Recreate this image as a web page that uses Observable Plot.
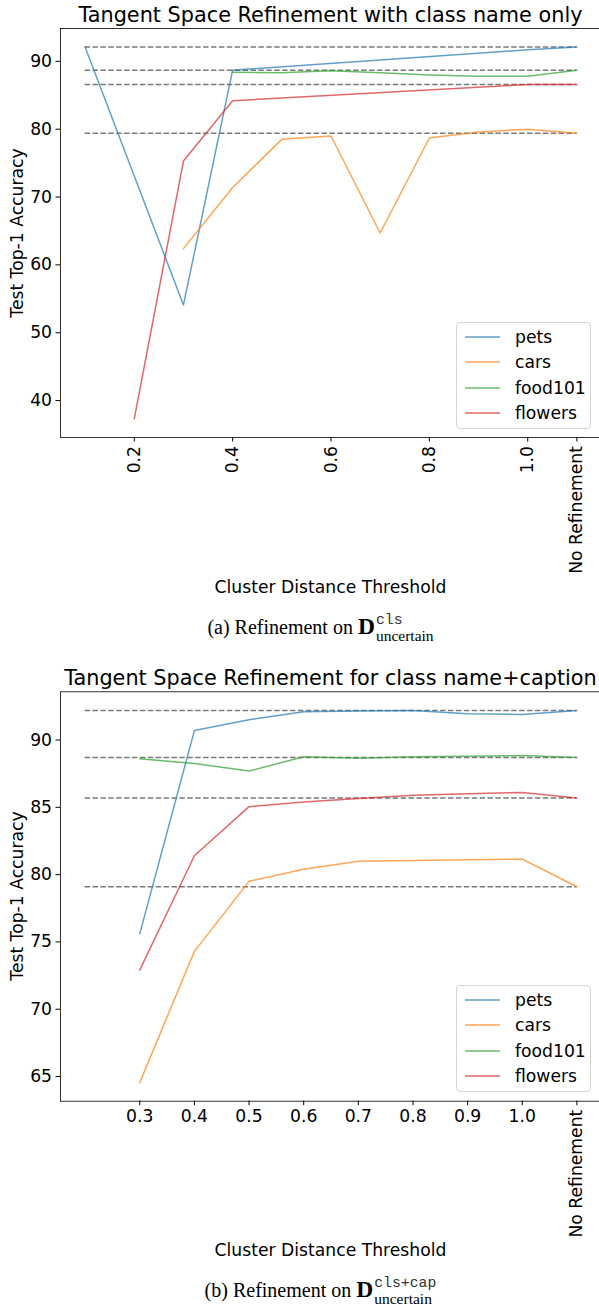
<!DOCTYPE html>
<html>
<head>
<meta charset="utf-8">
<script src="https://cdn.jsdelivr.net/npm/d3@7"></script>
<script src="https://cdn.jsdelivr.net/npm/@observablehq/plot@0.6"></script>
<style>
  body { margin: 0; background: #fff; }
  #page { position: relative; width: 599px; height: 1310px; overflow: hidden;
          font-family: "DejaVu Sans", sans-serif; color: #000; background: #fff; }
  .abs { position: absolute; }
  .title { left: 60px; width: 541px; text-align: center; font-size: 20.8px; line-height: 24px; white-space: nowrap; }
  .xlabel { left: 60px; width: 541px; text-align: center; font-size: 17.2px; line-height: 20px; white-space: nowrap; }
  .ylabel { font-size: 17.2px; line-height: 20px; white-space: nowrap;
            transform: translate(-50%, -50%) rotate(-90deg); }
  .legend { width: 133px; height: 105px; border: 1px solid #d4d4d4; border-radius: 4px;
            background: rgba(255,255,255,0.8); }
  .legend .row { position: absolute; left: 0; height: 20px; width: 133px; }
  .legend svg { position: absolute; left: 8px; top: 0; }
  .legend .name { position: absolute; left: 58px; top: 0; font-size: 17.2px; line-height: 20px; }
  .caption { left: 0; width: 641px; text-align: center; font-family: "Liberation Serif", serif;
             font-size: 20px; line-height: 40px; white-space: nowrap; }
  .caption .D { font-weight: bold; font-size: 23.5px; line-height: 1; }
  .caption .ss { display: inline-block; vertical-align: -6.5px; line-height: 1; text-align: left; margin-left: 1px; }
  .caption .sup { display: block; font-family: "Liberation Mono", monospace; font-size: 14.8px; color: #333; }
  .caption .sub { display: block; font-size: 15.5px; }
</style>
</head>
<body>
<div id="page">
  <div id="plotA" class="abs" style="left:0;top:0"></div>
  <div id="plotB" class="abs" style="left:0;top:660px"></div>

  <div class="abs title" style="top:3px">Tangent Space Refinement with class name only</div>
  <div class="abs ylabel" style="left:17px;top:232.5px">Test Top-1 Accuracy</div>
  <div class="abs xlabel" style="top:577px">Cluster Distance Threshold</div>
  <div id="legendA" class="abs legend" style="left:456px;top:322px"></div>
  <div class="abs caption" style="top:607px">(a) Refinement on <span class="D">D</span><span class="ss"><span class="sup">cls</span><span class="sub">uncertain</span></span></div>

  <div class="abs title" style="top:666px">Tangent Space Refinement for class name+caption</div>
  <div class="abs ylabel" style="left:17px;top:896px">Test Top-1 Accuracy</div>
  <div class="abs xlabel" style="top:1240px">Cluster Distance Threshold</div>
  <div id="legendB" class="abs legend" style="left:456px;top:985px"></div>
  <div class="abs caption" style="top:1270px">(b) Refinement on <span class="D">D</span><span class="ss"><span class="sup">cls+cap</span><span class="sub">uncertain</span></span></div>
</div>

<script>
// Position on the threshold axis used for the "No Refinement" column
const NO_REF = 1.1;
const NO_REF_LABEL = "No Refinement";

const datasets = ["pets", "cars", "food101", "flowers"];
const seriesColors = ["#1f77b4", "#ff7f0e", "#2ca02c", "#d62728"];

// (a) class name only
const thresholdsA = [0.1, 0.2, 0.3, 0.4, 0.5, 0.6, 0.7, 0.8, 0.9, 1.0];
const petsA     = [92.1, null, 54.1, 88.7, null, null, null, null, null, 91.7];
const carsA     = [null, null, 62.4, 71.4, 78.5, 79.0, 64.7, 78.7, 79.6, 80.0];
const food101A  = [null, null, null, 88.4, 88.3, 88.6, 88.3, 88.0, 87.8, 87.8];
const flowersA  = [null, 37.3, 75.3, 84.2, null, null, null, null, null, 86.6];
const noRefinementA = [92.1, 79.4, 88.7, 86.6];
const xTicksA = [0.2, 0.4, 0.6, 0.8, 1.0, NO_REF];
const yTicksA = [40, 50, 60, 70, 80, 90];

// (b) class name + caption
const thresholdsB = [0.2, 0.3, 0.4, 0.5, 0.6, 0.7, 0.8, 0.9, 1.0];
const petsB     = [null, 75.6, 90.7, 91.5, 92.1, 92.15, 92.2, 91.95, 91.9];
const carsB     = [null, 64.55, 74.3, 79.5, 80.4, 81.0, 81.05, 81.1, 81.15];
const food101B  = [null, 88.6, 88.25, 87.7, 88.75, 88.65, 88.75, 88.8, 88.85];
const flowersB  = [null, 72.9, 81.4, 85.05, 85.4, 85.65, 85.9, 86.0, 86.1];
const noRefinementB = [92.2, 79.1, 88.7, 85.7];
const xTicksB = [0.3, 0.4, 0.5, 0.6, 0.7, 0.8, 0.9, 1.0];
const yTicksB = [65, 70, 75, 80, 85, 90];

// Axis limits padded by 5% of the data span on each side
function padded(lo, hi) {
  const m = (hi - lo) * 0.05;
  return [lo - m, hi + m];
}

function tickText(d) {
  return d === NO_REF ? NO_REF_LABEL : d.toFixed(1);
}

function drawPanel({thresholds, series, noRef, xTicks, yTicks, rotateAll, marginTop, marginBottom}) {
  const rows = [];
  datasets.forEach((name, i) => {
    series[i].forEach((v, j) => {
      if (v != null) rows.push({name, threshold: thresholds[j], acc: v});
    });
    rows.push({name, threshold: NO_REF, acc: noRef[i]});
  });
  const baselines = datasets.map((name, i) => ({name, acc: noRef[i]}));
  const accs = rows.map(d => d.acc);
  const start = thresholds[0];

  const xAxes = rotateAll
    ? [Plot.axisX({ticks: xTicks, tickFormat: tickText, tickRotate: -90, tickSize: 4.5, tickPadding: 4, label: null})]
    : [
        Plot.axisX({ticks: xTicks.filter(t => t !== NO_REF), tickFormat: tickText, tickSize: 4.5, tickPadding: 4, label: null}),
        Plot.axisX({ticks: [NO_REF], tickFormat: tickText, tickRotate: -90, tickSize: 4.5, tickPadding: 4, label: null})
      ];

  return Plot.plot({
    width: 601,
    height: 600,
    marginLeft: 60,
    marginRight: 0,
    marginTop,
    marginBottom,
    style: {fontFamily: "DejaVu Sans", fontSize: "17.2px", background: "white", maxWidth: "none", overflow: "visible", color: "black"},
    x: {domain: padded(start, NO_REF)},
    y: {domain: padded(d3.min(accs), d3.max(accs))},
    color: {domain: datasets, range: seriesColors},
    marks: [
      Plot.ruleY(baselines, {y: "acc", x1: () => start, x2: () => NO_REF, stroke: "#7a7a7a", strokeWidth: 1.5, strokeDasharray: "5.5,2.4"}),
      Plot.line(rows, {x: "threshold", y: "acc", z: "name", stroke: "name", strokeWidth: 1.5, strokeOpacity: 0.7}),
      Plot.frame({stroke: "black", strokeWidth: 0.8}),
      Plot.axisY({ticks: yTicks, tickSize: 4.5, tickPadding: 4, label: null}),
      ...xAxes
    ]
  });
}

// Legend rows: a short line sample followed by the dataset name
function drawLegend(el) {
  const ns = "http://www.w3.org/2000/svg";
  datasets.forEach((name, i) => {
    const row = document.createElement("div");
    row.className = "row";
    row.style.top = (4 + i * 25.4) + "px";
    const svg = document.createElementNS(ns, "svg");
    svg.setAttribute("width", "36");
    svg.setAttribute("height", "20");
    const ln = document.createElementNS(ns, "line");
    ln.setAttribute("x1", "0");
    ln.setAttribute("x2", "35");
    ln.setAttribute("y1", "10");
    ln.setAttribute("y2", "10");
    ln.setAttribute("stroke", seriesColors[i]);
    ln.setAttribute("stroke-width", "1.5");
    ln.setAttribute("stroke-opacity", "0.7");
    svg.appendChild(ln);
    const tx = document.createElement("div");
    tx.className = "name";
    tx.textContent = name;
    row.appendChild(svg);
    row.appendChild(tx);
    el.appendChild(row);
  });
}

document.getElementById("plotA").appendChild(drawPanel({
  thresholds: thresholdsA,
  series: [petsA, carsA, food101A, flowersA],
  noRef: noRefinementA,
  xTicks: xTicksA, yTicks: yTicksA, rotateAll: true,
  marginTop: 28, marginBottom: 163
}));
document.getElementById("plotB").appendChild(drawPanel({
  thresholds: thresholdsB,
  series: [petsB, carsB, food101B, flowersB],
  noRef: noRefinementB,
  xTicks: xTicksB, yTicks: yTicksB, rotateAll: false,
  marginTop: 31.3, marginBottom: 159.3
}));
drawLegend(document.getElementById("legendA"));
drawLegend(document.getElementById("legendB"));
</script>
</body>
</html>
